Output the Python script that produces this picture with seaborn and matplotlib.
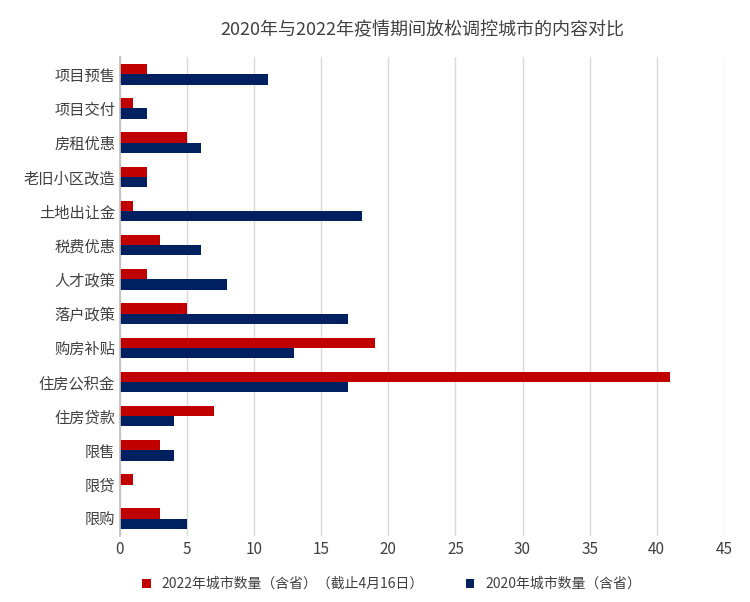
import pandas as pd
import matplotlib
matplotlib.use("Agg")
import matplotlib.pyplot as plt
import seaborn as sns

categories = ["项目预售", "项目交付", "房租优惠", "老旧小区改造", "土地出让金", "税费优惠", "人才政策",
              "落户政策", "购房补贴", "住房公积金", "住房贷款", "限售", "限贷", "限购"]
v2022 = [2, 1, 5, 2, 1, 3, 2, 5, 19, 41, 7, 3, 1, 3]
v2020 = [11, 2, 6, 2, 18, 6, 8, 17, 13, 17, 4, 4, 0, 5]
s2022 = "2022年城市数量（含省）（截止4月16日）"
s2020 = "2020年城市数量（含省）"

df = pd.DataFrame({
    "cat": categories * 2,
    "val": v2022 + v2020,
    "series": [s2022] * len(categories) + [s2020] * len(categories),
})

sns.set_theme(style="white")
plt.rcParams["font.family"] = ["Noto Sans CJK SC", "DejaVu Sans"]

fig, ax = plt.subplots(figsize=(7.5, 6.02), dpi=100)
sns.barplot(data=df, y="cat", x="val", hue="series", hue_order=[s2022, s2020],
            palette=["#C00000", "#002060"], orient="h", width=0.6, saturation=1,
            linewidth=0, ax=ax)
ax.set_xlim(0, 45)
ax.set_xticks(range(0, 46, 5))
ax.grid(axis="x", color="#D9D9D9", linewidth=1)
ax.set_axisbelow(True)
for s in ["top", "right", "bottom"]:
    ax.spines[s].set_visible(False)
ax.spines["left"].set_color("#BFBFBF")
ax.tick_params(axis="both", labelsize=11, colors="#404040", length=0)
ax.set_xlabel("")
ax.set_ylabel("")
ax.set_title("2020年与2022年疫情期间放松调控城市的内容对比", fontsize=13, color="#404040", pad=16)
ax.legend(loc="upper center", bbox_to_anchor=(0.45, -0.06), ncol=2, frameon=False,
          fontsize=10, handlelength=0.6, handleheight=0.6, columnspacing=3,
          labelcolor="#404040")
fig.subplots_adjust(left=0.16, right=0.965, top=0.905, bottom=0.11)
fig.savefig("out.png", dpi=100)
